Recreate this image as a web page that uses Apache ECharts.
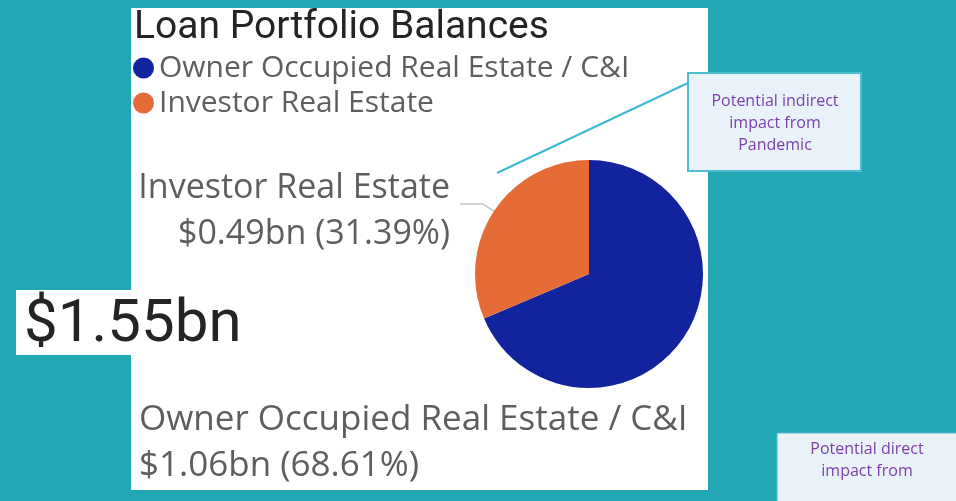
<!DOCTYPE html>
<html>
<head>
<meta charset="utf-8">
<script src="https://cdn.jsdelivr.net/npm/echarts@6/dist/echarts.min.js"></script>
<style>
  html, body { margin: 0; padding: 0; }
  #chart { width: 956px; height: 501px; }
</style>
</head>
<body>
<div id="chart"></div>
<script>
// values in $bn (total 1.55bn, 68.61% / 31.39%)
const categories = ['Owner Occupied Real Estate / C&I', 'Investor Real Estate'];
const balances = [1.0635, 0.4865];
const colors = ['#12239E', '#E66C37'];
const calloutTop = ['Potential indirect', 'impact from', 'Pandemic'];
const calloutBottom = ['Potential direct', 'impact from'];

const total = balances.reduce((a, b) => a + b, 0);
const pieCenter = [589, 274];
const pieRadius = 114;

function edgePoint(deg) {
  const a = deg * Math.PI / 180;
  return [pieCenter[0] + pieRadius * Math.cos(a), pieCenter[1] - pieRadius * Math.sin(a)];
}

const chart = echarts.init(document.getElementById('chart'));

const option = {
  backgroundColor: '#22A7B4',
  animation: false,
  color: colors,
  title: {
    text: 'Loan Portfolio Balances',
    left: 134,
    top: 9,
    padding: 0,
    textStyle: {
      fontFamily: 'Roboto',
      fontSize: 39,
      fontWeight: 'normal',
      color: '#252423'
    }
  },
  legend: {
    orient: 'vertical',
    left: 133,
    top: 53,
    padding: 0,
    itemGap: 5,
    icon: 'circle',
    itemWidth: 21,
    itemHeight: 21,
    data: categories,
    textStyle: {
      fontFamily: 'Open Sans',
      fontSize: 30,
      color: '#605E5C'
    }
  },
  graphic: [
    {
      type: 'rect',
      z: -10,
      shape: { x: 131, y: 8, width: 577, height: 482 },
      style: { fill: '#ffffff' }
    },
    {
      type: 'rect',
      z: -10,
      shape: { x: 16, y: 290, width: 120, height: 65 },
      style: { fill: '#ffffff' }
    },
    {
      type: 'text',
      x: 24,
      y: 296,
      style: {
        text: '$' + total.toFixed(2) + 'bn',
        font: '60px Roboto',
        fill: '#252423'
      }
    },
    {
      type: 'line',
      shape: { x1: 497, y1: 173, x2: 688, y2: 83 },
      style: { stroke: '#3CB9D0', lineWidth: 2 }
    },
    {
      type: 'rect',
      shape: { x: 688, y: 73, width: 173, height: 98 },
      style: { fill: '#E9F1F9', stroke: '#4DBDD2', lineWidth: 2 }
    },
    {
      type: 'text',
      x: 775,
      y: 90,
      style: {
        text: calloutTop.join('\n'),
        font: '16px "Open Sans"',
        lineHeight: 22,
        fill: '#7B3FAE',
        align: 'center'
      }
    },
    {
      type: 'rect',
      shape: { x: 777, y: 433, width: 185, height: 80 },
      style: { fill: '#E9F1F9', stroke: '#4DBDD2', lineWidth: 1 }
    },
    {
      type: 'text',
      x: 867,
      y: 438,
      style: {
        text: calloutBottom.join('\n'),
        font: '16px "Open Sans"',
        lineHeight: 22,
        fill: '#7B3FAE',
        align: 'center'
      }
    }
  ],
  series: [
    {
      type: 'pie',
      center: pieCenter,
      radius: pieRadius,
      startAngle: 90,
      clockwise: true,
      data: categories.map((name, i) => ({ name, value: balances[i] })),
      label: {
        show: true,
        position: 'outside',
        overflow: 'none',
        fontFamily: 'Open Sans',
        fontSize: 35,
        lineHeight: 46,
        color: '#605E5C',
        formatter: p => p.name + '\n$' + p.value.toFixed(2) + 'bn (' + (p.value / total * 100).toFixed(2) + '%)'
      },
      labelLine: {
        show: true,
        lineStyle: { color: '#C8C6C4', width: 1.5 }
      },
      labelLayout: function (params) {
        if (params.dataIndex === 1) {
          const p0 = edgePoint(146.5);
          return {
            x: 450,
            y: 165,
            width: 400,
            fontSize: 34,
            align: 'right',
            verticalAlign: 'top',
            labelLinePoints: [p0, [p0[0] - 11, p0[1] - 7], [p0[0] - 34, p0[1] - 7]]
          };
        }
        const p0 = edgePoint(228.5);
        return {
          x: 139,
          y: 397,
          width: 600,
          align: 'left',
          verticalAlign: 'top',
          labelLinePoints: [p0, [p0[0] + 10, p0[1] - 6], [p0[0] + 34, p0[1] - 6]]
        };
      }
    }
  ]
};

chart.setOption(option);
</script>
</body>
</html>
